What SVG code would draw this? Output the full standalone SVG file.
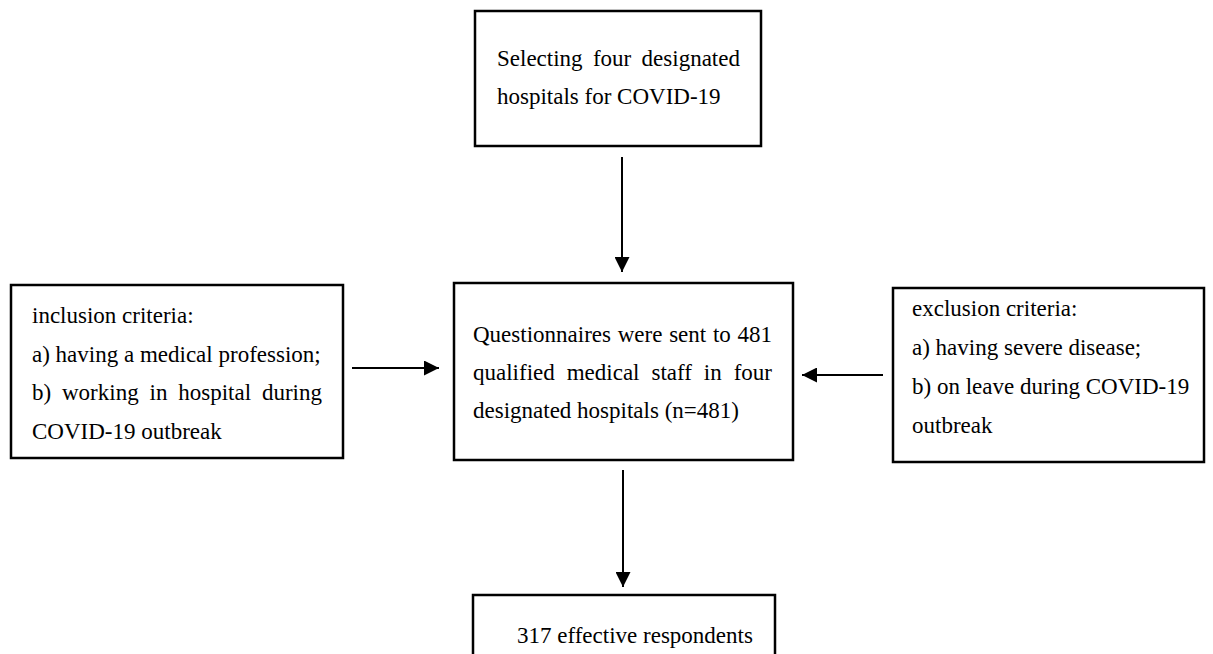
<svg xmlns="http://www.w3.org/2000/svg" width="1213" height="654" viewBox="0 0 1213 654">
<style>
.box{fill:#fff;stroke:#000;stroke-width:2.5}
.t{font-family:"Liberation Serif","Times New Roman",serif;font-size:23px;fill:#000}
.c{stroke:#000;stroke-width:2;fill:none}
</style>
<defs>
<marker id="ah" viewBox="0 0 15 15" refX="15" refY="7.5" markerWidth="15" markerHeight="15" markerUnits="userSpaceOnUse" orient="auto">
<path d="M0,0 L15,7.5 L0,15 z" fill="#000"/>
</marker>
</defs>
<rect width="1213" height="654" fill="#fff"/>
<g id="n-select">
<rect class="box" x="475" y="11" width="286" height="135"/>
<text class="t" x="497" y="66" word-spacing="4.6">Selecting four designated</text>
<text class="t" x="497" y="104">hospitals for COVID-19</text>
</g>
<g id="n-inclusion">
<rect class="box" x="11" y="285" width="332" height="173"/>
<text class="t" x="32" y="323">inclusion criteria:</text>
<text class="t" x="32" y="362">a) having a medical profession;</text>
<text class="t" x="32" y="400" word-spacing="5.1">b) working in hospital during</text>
<text class="t" x="32" y="439">COVID-19 outbreak</text>
</g>
<g id="n-questionnaires">
<rect class="box" x="454" y="283" width="339" height="177"/>
<text class="t" x="473" y="342" word-spacing="1">Questionnaires were sent to 481</text>
<text class="t" x="473" y="380" word-spacing="6.2">qualified medical staff in four</text>
<text class="t" x="473" y="418">designated hospitals (n=481)</text>
</g>
<g id="n-exclusion">
<rect class="box" x="893" y="288" width="311" height="174"/>
<text class="t" x="912" y="316">exclusion criteria:</text>
<text class="t" x="912" y="355">a) having severe disease;</text>
<text class="t" x="912" y="394">b) on leave during COVID-19</text>
<text class="t" x="912" y="433">outbreak</text>
</g>
<g id="n-respondents">
<rect class="box" x="473" y="595" width="302" height="75"/>
<text class="t" x="517" y="643">317 effective respondents</text>
</g>
<g id="connectors">
<line class="c" x1="622" y1="157" x2="622" y2="272" marker-end="url(#ah)"/>
<line class="c" x1="352" y1="368" x2="439" y2="368" marker-end="url(#ah)"/>
<line class="c" x1="883" y1="375" x2="802" y2="375" marker-end="url(#ah)"/>
<line class="c" x1="623" y1="470" x2="623" y2="587" marker-end="url(#ah)"/>
</g>
</svg>
